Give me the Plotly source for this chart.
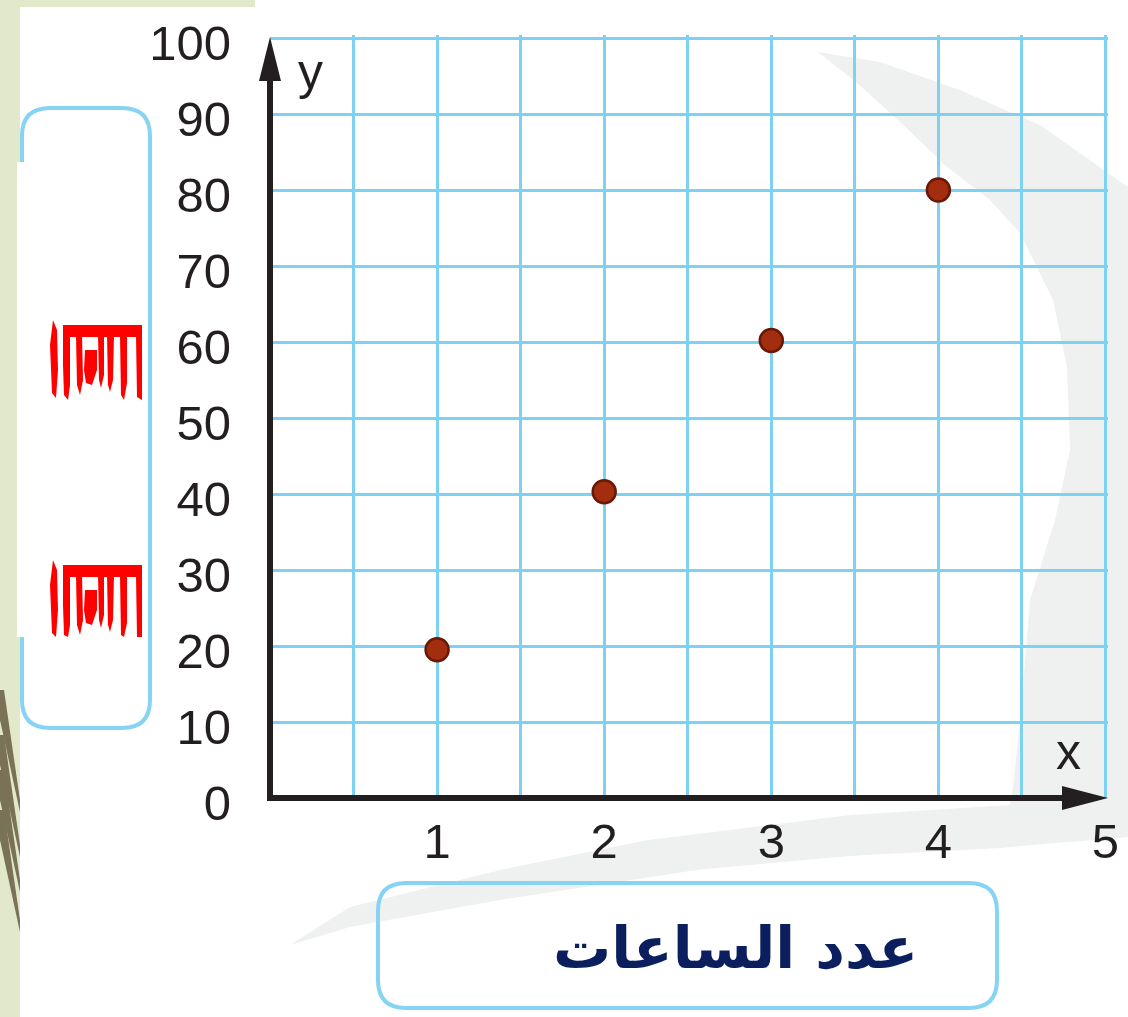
import plotly.graph_objects as go

# ---------------- data ----------------
hours = [1, 2, 3, 4]
amounts = [19.5, 40.3, 60.2, 80]
x_tick_vals = [1, 2, 3, 4, 5]
x_tick_text = ["1", "2", "3", "4", "5"]
x_minor_vals = [0.5, 1.5, 2.5, 3.5, 4.5]
y_tick_vals = [0, 10, 20, 30, 40, 50, 60, 70, 80, 90, 100]
y_tick_text = ["0", "10", "20", "30", "40", "50", "60", "70", "80", "90", "100"]
x_range = [0, 5.015]
y_range = [0, 100.4]
x_title = "عدد الساعات"

# ---------------- geometry helpers (pixel -> paper) ----------------
FW, FH = 1128, 1017
ML, MR, MT, MB = 270, 20, 35, 219
PW = FW - ML - MR
PH = FH - MT - MB
PB = FH - MB


def px(x):
    return (x - ML) / PW


def py(y):
    return (PB - y) / PH


def pt(x, y):
    return f"{px(x):.5f},{py(y):.5f}"


def poly(points):
    return "M " + " L ".join(pt(x, y) for x, y in points) + " Z"


def rrect(x0, y0, x1, y1, r):
    return (f"M {pt(x0 + r, y0)} L {pt(x1 - r, y0)} Q {pt(x1, y0)} {pt(x1, y0 + r)} "
            f"L {pt(x1, y1 - r)} Q {pt(x1, y1)} {pt(x1 - r, y1)} "
            f"L {pt(x0 + r, y1)} Q {pt(x0, y1)} {pt(x0, y1 - r)} "
            f"L {pt(x0, y0 + r)} Q {pt(x0, y0)} {pt(x0 + r, y0)} Z")


GRID = "#7DD2F3"
INK = "#231F20"
BOXC = "#86D3F3"
TICKFONT = dict(family="Liberation Sans Narrow, Liberation Sans, Arial", size=49, color=INK)

shapes = []

# background watermark (light grey swoosh)
wm = [(818, 52), (880, 62), (960, 90), (1040, 125), (1128, 187), (1128, 837),
      (1000, 848), (850, 856), (697, 870), (500, 900), (350, 927), (290, 945),
      (350, 907), (500, 870), (648, 840), (850, 815), (1010, 805), (1013, 787),
      (1020, 720), (1030, 600), (1055, 520), (1070, 450), (1067, 367), (1053, 300),
      (1020, 233), (990, 200), (947, 167), (900, 122), (857, 83)]
shapes.append(dict(type="path", xref="paper", yref="paper", path=poly(wm),
                   fillcolor="#EFF1F1", line=dict(width=0), layer="below"))

# left decorative strip
shapes.append(dict(type="path", xref="paper", yref="paper",
                   path=poly([(0, 0), (20, 0), (20, FH), (0, FH)]),
                   fillcolor="#E2E8CA", line=dict(width=0), layer="below"))
shapes.append(dict(type="path", xref="paper", yref="paper",
                   path=poly([(0, 0), (255, 0), (255, 7), (0, 7)]),
                   fillcolor="#E2E8CA", line=dict(width=0), layer="below"))
for y0 in [690, 735, 770, 810]:
    shapes.append(dict(type="path", xref="paper", yref="paper",
                       path=poly([(0, y0), (4, y0), (20, y0 + 110), (20, y0 + 122), (0, y0 + 30)]),
                       fillcolor="#7A7256", line=dict(width=0), layer="below"))

# label boxes
shapes.append(dict(type="path", xref="paper", yref="paper", path=rrect(22, 108, 150, 728, 28),
                   fillcolor="rgba(255,255,255,0)", line=dict(color=BOXC, width=4)))
shapes.append(dict(type="path", xref="paper", yref="paper", path=rrect(378, 883, 997, 1008, 28),
                   fillcolor="rgba(255,255,255,0)", line=dict(color=BOXC, width=4)))
shapes.append(dict(type="path", xref="paper", yref="paper",
                   path=poly([(17, 162), (142, 162), (142, 637), (17, 637)]),
                   fillcolor="white", line=dict(width=0)))

# damaged red label fragments in the y box
strokes = [
    [(53, -5), (57, 5), (58, 45), (56, 73), (52, 68), (50, 20)],
    [(63, 0), (70, 0), (70, 60), (68, 75), (64, 70), (63, 40)],
    [(76, 10), (82, 10), (83, 55), (80, 70), (77, 60)],
    [(85, 25), (97, 25), (97, 45), (92, 60), (86, 58), (84, 45)],
    [(98, 10), (104, 10), (104, 50), (101, 63), (99, 55)],
    [(107, 10), (114, 10), (113, 55), (110, 67), (108, 60)],
    [(120, 10), (127, 10), (127, 58), (124, 75), (121, 70)],
    [(136, 10), (142, 10), (142, 75), (137, 72)],
    [(63, 0), (142, 0), (142, 12), (63, 12)],
]
for top, cut in [(325, 78), (565, 72)]:
    for s in strokes:
        shapes.append(dict(type="path", xref="paper", yref="paper",
                           path=poly([(x, top + min(d, cut)) for x, d in s]),
                           fillcolor="#FF0000", line=dict(width=0)))

# axes with arrowheads
shapes.append(dict(type="line", xref="paper", yref="paper",
                   x0=px(ML), y0=py(801), x1=px(ML), y1=py(75),
                   line=dict(color=INK, width=6), layer="above"))
shapes.append(dict(type="path", xref="paper", yref="paper",
                   path=poly([(259, 81), (ML, 37), (281, 81)]),
                   fillcolor=INK, line=dict(width=0), layer="above"))
shapes.append(dict(type="line", xref="paper", yref="paper",
                   x0=px(267), y0=py(798), x1=px(1068), y1=py(798),
                   line=dict(color=INK, width=6), layer="above"))
shapes.append(dict(type="path", xref="paper", yref="paper",
                   path=poly([(1062, 786), (1108, 798), (1062, 810)]),
                   fillcolor=INK, line=dict(width=0), layer="above"))

fig = go.Figure()
fig.add_trace(go.Scatter(
    x=hours, y=amounts, mode="markers",
    marker=dict(size=23, color="#A32D0F", line=dict(color="#6A1806", width=2.5)),
    showlegend=False, hoverinfo="x+y", cliponaxis=False))

fig.update_layout(
    width=FW, height=FH,
    margin=dict(l=ML, r=MR, t=MT, b=MB, pad=0, autoexpand=False),
    paper_bgcolor="white", plot_bgcolor="rgba(0,0,0,0)",
    shapes=shapes,
    xaxis=dict(range=x_range, tickmode="array", tickvals=x_tick_vals, ticktext=x_tick_text,
               automargin=False,
               showgrid=True, gridcolor=GRID, gridwidth=2.5, zeroline=False, showline=False,
               ticks="", ticklabelstandoff=10, tickfont=TICKFONT,
               minor=dict(tickmode="array", tickvals=x_minor_vals, showgrid=True,
                          gridcolor=GRID, gridwidth=2.5, ticks="")),
    yaxis=dict(range=y_range, tickmode="array", tickvals=y_tick_vals, ticktext=y_tick_text,
               automargin=False,
               showgrid=True, gridcolor=GRID, gridwidth=2.5, zeroline=False, showline=False,
               ticks="", ticklabelstandoff=38, ticklabelshift=5, tickfont=TICKFONT),
    annotations=[
        dict(text="y", xref="paper", yref="paper", x=px(310), y=py(72), showarrow=False,
             xanchor="center", yanchor="middle",
             font=dict(family="Liberation Sans, Arial", size=50, color=INK)),
        dict(text="x", xref="paper", yref="paper", x=px(1068), y=py(752), showarrow=False,
             xanchor="center", yanchor="middle",
             font=dict(family="Liberation Sans, Arial", size=50, color=INK)),
        dict(text=x_title, xref="paper", yref="paper", x=px(735), y=py(948), showarrow=False,
             xanchor="center", yanchor="middle",
             font=dict(family="DejaVu Sans, Noto Sans", size=58, color="#0B1F5E", weight="bold")),
    ],
)

fig.write_html("out.html", config={"displayModeBar": False},
               post_script="document.body.style.margin='0';")
